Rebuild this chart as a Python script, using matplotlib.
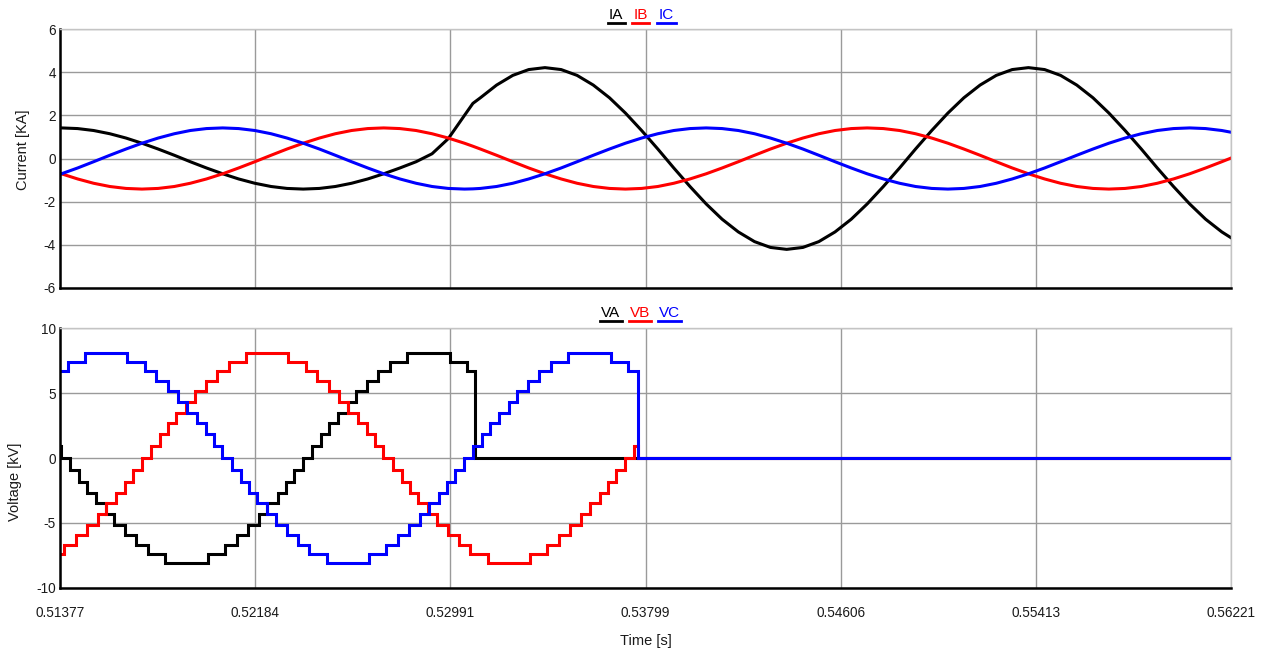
# plot.py
# Phase currents and multilevel phase voltages around a fault event.
import matplotlib
matplotlib.use("Agg")
import matplotlib.pyplot as plt
from matplotlib.lines import Line2D

plt.rcParams["font.family"] = ["Liberation Sans", "DejaVu Sans"]
plt.rcParams["axes.unicode_minus"] = False

# ─── Axis setup ───────────────────────────────────────────────────────
X_TICKS  = [0.51377, 0.52184, 0.52991, 0.53799, 0.54606, 0.55413, 0.56221]
X_LABELS = ["0.51377", "0.52184", "0.52991", "0.53799", "0.54606", "0.55413", "0.56221"]
I_TICKS  = [-6, -4, -2, 0, 2, 4, 6]
V_TICKS  = [-10, -5, 0, 5, 10]

# ─── Currents [kA] ────────────────────────────────────────────────────
I_T = [0.51377,
       0.51383, 0.51450, 0.51516, 0.51583, 0.51650, 0.51716, 0.51783, 0.51850, 0.51916, 0.51983,
       0.52050, 0.52116, 0.52183, 0.52250, 0.52316, 0.52383, 0.52450, 0.52516, 0.52583, 0.52650,
       0.52716, 0.52783, 0.52850, 0.52916, 0.52983, 0.53050, 0.53085, 0.53116, 0.53183, 0.53250, 0.53316,
       0.53383, 0.53450, 0.53516, 0.53583, 0.53650, 0.53716, 0.53783, 0.53850, 0.53916, 0.53983,
       0.54050, 0.54116, 0.54183, 0.54250, 0.54316, 0.54383, 0.54450, 0.54516, 0.54583, 0.54650,
       0.54716, 0.54783, 0.54850, 0.54916, 0.54983, 0.55050, 0.55116, 0.55183, 0.55250, 0.55316,
       0.55383, 0.55450, 0.55516, 0.55583, 0.55650, 0.55716, 0.55783, 0.55850, 0.55916, 0.55983,
       0.56050, 0.56116, 0.56183, 0.56221]

IA = [1.42,
      1.42, 1.39, 1.30, 1.15, 0.95, 0.71, 0.44, 0.15, -0.15, -0.44,
      -0.71, -0.95, -1.15, -1.30, -1.39, -1.42, -1.39, -1.30, -1.15, -0.95,
      -0.71, -0.44, -0.15, 0.22, 0.92, 2.00, 2.56, 2.82, 3.41, 3.86, 4.13,
      4.22, 4.13, 3.86, 3.41, 2.82, 2.11, 1.30, 0.44, -0.44, -1.30,
      -2.11, -2.82, -3.41, -3.86, -4.13, -4.22, -4.13, -3.86, -3.41, -2.82,
      -2.11, -1.30, -0.44, 0.44, 1.30, 2.11, 2.82, 3.41, 3.86, 4.13,
      4.22, 4.13, 3.86, 3.41, 2.82, 2.11, 1.30, 0.44, -0.44, -1.30,
      -2.11, -2.82, -3.41, -3.68]

IB = [-0.69,
      -0.71, -0.95, -1.15, -1.30, -1.39, -1.42, -1.39, -1.30, -1.15, -0.95,
      -0.71, -0.44, -0.15, 0.15, 0.44, 0.71, 0.95, 1.15, 1.30, 1.39,
      1.42, 1.39, 1.30, 1.15, 0.95, 0.71, 0.57, 0.44, 0.15, -0.15, -0.44,
      -0.71, -0.95, -1.15, -1.30, -1.39, -1.42, -1.39, -1.30, -1.15, -0.95,
      -0.71, -0.44, -0.15, 0.15, 0.44, 0.71, 0.95, 1.15, 1.30, 1.39,
      1.42, 1.39, 1.30, 1.15, 0.95, 0.71, 0.44, 0.15, -0.15, -0.44,
      -0.71, -0.95, -1.15, -1.30, -1.39, -1.42, -1.39, -1.30, -1.15, -0.95,
      -0.71, -0.44, -0.15, 0.02]

IC = [-0.73,
      -0.71, -0.44, -0.15, 0.15, 0.44, 0.71, 0.95, 1.15, 1.30, 1.39,
      1.42, 1.39, 1.30, 1.15, 0.95, 0.71, 0.44, 0.15, -0.15, -0.44,
      -0.71, -0.95, -1.15, -1.30, -1.39, -1.42, -1.41, -1.39, -1.30, -1.15, -0.95,
      -0.71, -0.44, -0.15, 0.15, 0.44, 0.71, 0.95, 1.15, 1.30, 1.39,
      1.42, 1.39, 1.30, 1.15, 0.95, 0.71, 0.44, 0.15, -0.15, -0.44,
      -0.71, -0.95, -1.15, -1.30, -1.39, -1.42, -1.39, -1.30, -1.15, -0.95,
      -0.71, -0.44, -0.15, 0.15, 0.44, 0.71, 0.95, 1.15, 1.30, 1.39,
      1.42, 1.39, 1.30, 1.22]

# ─── Voltages [kV]: converter levels + switching instants ─────────────
LEVEL_KV = [0.0, 0.93, 1.82, 2.70, 3.50, 4.32, 5.14, 5.94, 6.70, 7.42, 8.12]

VA_T = [0.51377, 0.51382, 0.51420, 0.51457, 0.51490, 0.51525, 0.51567, 0.51602, 0.51647,
        0.51693, 0.51742, 0.51813, 0.51989, 0.52060, 0.52109, 0.52155, 0.52200, 0.52235,
        0.52277, 0.52312, 0.52345, 0.52382, 0.52420, 0.52457, 0.52490, 0.52525, 0.52567,
        0.52602, 0.52647, 0.52693, 0.52742, 0.52813, 0.52989, 0.53060, 0.53094, 0.56221]
VA_L = [1, 0, -1, -2, -3, -4, -5, -6, -7, -8, -9, -10, -9, -8, -7, -6, -5, -4, -3, -2, -1,
        0, 1, 2, 3, 4, 5, 6, 7, 8, 9, 10, 9, 8, 0]

VB_T = [0.51377, 0.51393, 0.51442, 0.51488, 0.51533, 0.51568, 0.51610, 0.51645, 0.51678,
        0.51715, 0.51753, 0.51790, 0.51823, 0.51858, 0.51900, 0.51935, 0.51980, 0.52026,
        0.52075, 0.52146, 0.52322, 0.52393, 0.52442, 0.52488, 0.52533, 0.52568, 0.52610,
        0.52645, 0.52678, 0.52715, 0.52753, 0.52790, 0.52823, 0.52858, 0.52900, 0.52935,
        0.52980, 0.53026, 0.53075, 0.53146, 0.53322, 0.53393, 0.53442, 0.53488, 0.53533,
        0.53568, 0.53610, 0.53645, 0.53678, 0.53715, 0.53753, 0.53768, 0.56221]
VB_L = [-9, -8, -7, -6, -5, -4, -3, -2, -1, 0, 1, 2, 3, 4, 5, 6, 7, 8, 9, 10, 9, 8, 7, 6,
        5, 4, 3, 2, 1, 0, -1, -2, -3, -4, -5, -6, -7, -8, -9, -10, -9, -8, -7, -6, -5, -4,
        -3, -2, -1, 0, 1, 0]

VC_T = [0.51377, 0.51409, 0.51480, 0.51656, 0.51727, 0.51776, 0.51822, 0.51867, 0.51902,
        0.51944, 0.51979, 0.52012, 0.52049, 0.52087, 0.52124, 0.52157, 0.52192, 0.52234,
        0.52269, 0.52314, 0.52360, 0.52409, 0.52480, 0.52656, 0.52727, 0.52776, 0.52822,
        0.52867, 0.52902, 0.52944, 0.52979, 0.53012, 0.53049, 0.53087, 0.53124, 0.53157,
        0.53192, 0.53234, 0.53269, 0.53314, 0.53360, 0.53409, 0.53480, 0.53656, 0.53727,
        0.53768, 0.56221]
VC_L = [8, 9, 10, 9, 8, 7, 6, 5, 4, 3, 2, 1, 0, -1, -2, -3, -4, -5, -6, -7, -8, -9, -10,
        -9, -8, -7, -6, -5, -4, -3, -2, -1, 0, 1, 2, 3, 4, 5, 6, 7, 8, 9, 10, 9, 8, 0]

COLORS = {"A": "#000000", "B": "#ff0000", "C": "#0000ff"}

W, H = 1261, 653


def fx(x):
    return x / W


def fy(y):
    return 1 - y / H


def to_kv(levels):
    return [LEVEL_KV[abs(n)] if n >= 0 else -LEVEL_KV[abs(n)] for n in levels]


def style(ax, yticks):
    ax.set_xlim(X_TICKS[0], X_TICKS[-1])
    ax.set_ylim(yticks[0], yticks[-1])
    ax.set_xticks(X_TICKS)
    ax.set_yticks(yticks)
    ax.set_axisbelow(True)
    ax.grid(True, color="#9a9a9a", linewidth=1.0)
    ax.tick_params(length=0, labelsize=9.8, colors="#1a1a1a")
    ax.tick_params(axis="y", pad=3)
    for side in ("left", "bottom"):
        ax.spines[side].set_color("black")
        ax.spines[side].set_linewidth(1.8)
    for side in ("top", "right"):
        ax.spines[side].set_color("#c4c4c4")
        ax.spines[side].set_linewidth(1.0)


def legend(entries, y_text, y_bar):
    for label, color, xc, w in entries:
        fig.text(fx(xc), fy(y_text), label, color=color, ha="center",
                 va="baseline", fontsize=11)
        fig.add_artist(Line2D([fx(xc - w / 2), fx(xc + w / 2)], [fy(y_bar)] * 2,
                              color=color, linewidth=2.0,
                              transform=fig.transFigure))


fig = plt.figure(figsize=(W / 100, H / 100), dpi=100)
ax1 = fig.add_axes([fx(60), fy(287.7), 1171 / W, 258.4 / H])
ax2 = fig.add_axes([fx(60), fy(587.7), 1171 / W, 259.4 / H])

# ─── Top: currents ────────────────────────────────────────────────────
for vals, key in [(IA, "A"), (IB, "B"), (IC, "C")]:
    ax1.plot(I_T, vals, color=COLORS[key], linewidth=2.2,
             solid_joinstyle="round")
style(ax1, I_TICKS)
ax1.tick_params(labelbottom=False)

# ─── Bottom: voltages ─────────────────────────────────────────────────
for edges, lev, key in [(VA_T, VA_L, "A"), (VB_T, VB_L, "B"), (VC_T, VC_L, "C")]:
    ax2.stairs(to_kv(lev), edges, baseline=None, color=COLORS[key],
               linewidth=2.2)
style(ax2, V_TICKS)
ax2.set_xticklabels(X_LABELS)
ax2.tick_params(axis="x", pad=13)

# ─── Labels and legends ───────────────────────────────────────────────
fig.text(fx(23.3), fy(150), "Current [KA]", rotation=90, ha="center",
         va="center", fontsize=10.5, color="#1a1a1a")
fig.text(fx(15.5), fy(481.7), "Voltage [kV]", rotation=90, ha="center",
         va="center", fontsize=10.5, color="#1a1a1a")
fig.text(fx(645.5), fy(645.5), "Time [s]", ha="center", va="baseline",
         fontsize=10.5, color="#1a1a1a")

legend([("IA", COLORS["A"], 616.3, 17.5),
        ("IB", COLORS["B"], 640.8, 17.0),
        ("IC", COLORS["C"], 666.2, 19.0)], y_text=19.0, y_bar=23.3)
legend([("VA", COLORS["A"], 610.8, 21.7),
        ("VB", COLORS["B"], 640.0, 21.4),
        ("VC", COLORS["C"], 669.7, 22.7)], y_text=316.7, y_bar=320.7)

fig.savefig("out.png", dpi=100)
